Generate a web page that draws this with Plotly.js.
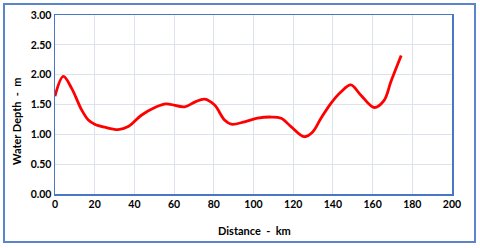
<!DOCTYPE html>
<html>
<head>
<meta charset="utf-8">
<script src="https://cdn.plot.ly/plotly-3.0.1.min.js"></script>
<style>html,body{margin:0;padding:0;background:#fff;}#chart{width:480px;height:248px;}</style>
</head>
<body>
<div id="chart"></div>
<script>
const distanceKm = [0, 4.2, 8.4, 13.4, 16.8, 20, 25, 31.8, 36.9, 43.5, 50.3, 56, 65.3, 70.4, 75.4, 80.4, 85.4, 88.8, 95.5, 102, 108.9, 113.9, 118.9, 125.6, 129.8, 134, 139, 144, 149, 154, 160.8, 165.8, 169.2, 174.4];
const waterDepthM = [1.64, 1.97, 1.77, 1.41, 1.24, 1.17, 1.12, 1.08, 1.13, 1.32, 1.45, 1.51, 1.46, 1.54, 1.59, 1.49, 1.24, 1.17, 1.21, 1.27, 1.29, 1.27, 1.13, 0.96, 1.04, 1.27, 1.52, 1.71, 1.83, 1.66, 1.45, 1.57, 1.88, 2.32];
const xTicks = [0, 20, 40, 60, 80, 100, 120, 140, 160, 180, 200];
const yTicks = [0, 0.5, 1, 1.5, 2, 2.5, 3];

const W = 480, H = 248;
const L = 55, R = 452, T = 15, B = 194;
const pw = R - L, ph = B - T;
const px = v => (v - L) / pw;
const py = v => (B - v) / ph;

const tickFont = {family: 'Lato, "Liberation Sans", sans-serif', size: 10.5, color: '#000', weight: 'bold'};
const titleFont = {family: 'Lato, "Liberation Sans", sans-serif', size: 11, color: '#000', weight: 'bold'};

const trace = {
  x: distanceKm, y: waterDepthM, type: 'scatter', mode: 'lines',
  line: {color: '#ff0000', width: 2.8, shape: 'spline', smoothing: 1.0},
  hoverinfo: 'skip'
};

const layout = {
  width: W, height: H,
  margin: {l: L, r: W - R, t: T, b: H - B, pad: 0},
  paper_bgcolor: '#ffffff', plot_bgcolor: '#ffffff',
  showlegend: false,
  xaxis: {
    range: [0, 200], tickvals: xTicks, ticktext: xTicks.map(String),
    showgrid: true, gridcolor: '#dde2ec', gridwidth: 1,
    zeroline: false, showline: true, linecolor: '#4a76c6', linewidth: 1.5, mirror: true,
    ticks: '', ticklen: 0, tickfont: tickFont, automargin: false
  },
  yaxis: {
    range: [0, 3], tickvals: yTicks, ticktext: yTicks.map(v => v.toFixed(2)),
    showgrid: true, gridcolor: '#dde2ec', gridwidth: 1,
    zeroline: false, showline: true, linecolor: '#4a76c6', linewidth: 1.5, mirror: true,
    ticks: '', ticklen: 0, tickfont: tickFont, automargin: false
  },
  shapes: [{
    type: 'rect', xref: 'paper', yref: 'paper',
    x0: px(4), x1: px(475), y0: py(242), y1: py(4),
    line: {color: '#5b84cc', width: 2}, fillcolor: 'rgba(0,0,0,0)', layer: 'below'
  }],
  annotations: [
    {text: 'Distance  -  km', xref: 'paper', yref: 'paper', x: px(254), y: py(230),
     xanchor: 'center', yanchor: 'middle', showarrow: false, font: titleFont},
    {text: 'Water Depth  -  m', xref: 'paper', yref: 'paper', x: px(17), y: py(121),
     xanchor: 'center', yanchor: 'middle', showarrow: false, textangle: -90, font: titleFont}
  ]
};

Plotly.newPlot('chart', [trace], layout, {displayModeBar: false, staticPlot: true});
</script>
</body>
</html>
